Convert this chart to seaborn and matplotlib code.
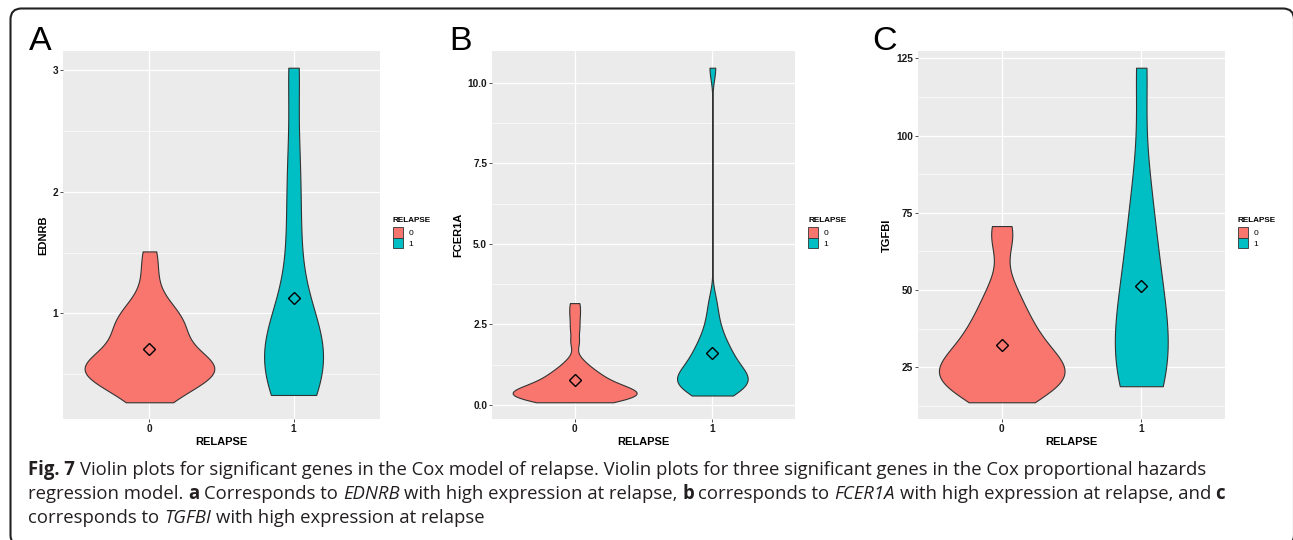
import numpy as np
import pandas as pd
import matplotlib
matplotlib.use("Agg")
import matplotlib.pyplot as plt
from matplotlib.patches import Patch, FancyBboxPatch
from matplotlib.transforms import IdentityTransform
import seaborn as sns

# ---------------- data ----------------
relapse_levels = ["0", "1"]
relapse_colors = ["#F8766D", "#00BFC4"]

ednrb_relapse0 = [0.27, 0.32, 0.38, 0.42, 0.45, 0.48, 0.50, 0.52, 0.53, 0.55, 0.56, 0.57,
                  0.59, 0.61, 0.63, 0.66, 0.74, 0.79, 0.83, 0.87, 0.91, 0.95, 0.99, 1.04,
                  1.12, 1.32, 1.51]
ednrb_relapse1 = [0.33, 0.45, 0.55, 0.64, 0.72, 0.82, 0.97, 1.60, 2.20, 3.02]

fcer1a_relapse0 = [0.08, 0.10, 0.12, 0.16, 0.20, 0.22, 0.24, 0.27, 0.30, 0.33, 0.36, 0.38,
                   0.40, 0.42, 0.44, 0.47, 0.50, 0.54, 0.58, 0.63, 0.68, 0.74, 0.80, 0.87,
                   0.92, 1.00, 1.10, 1.20, 1.40, 1.95, 2.40, 2.80, 3.16]
fcer1a_relapse1 = [0.29, 0.42, 0.50, 0.52, 0.60, 0.67, 0.70, 0.73, 0.79, 0.85, 0.92, 1.00,
                   1.08, 1.17, 1.27, 1.38, 1.50, 1.64, 1.74, 1.90, 2.10, 2.35, 2.70, 3.20,
                   10.47]

tgfbi_relapse0 = [13.6, 15.5, 17.5, 19.0, 20.0, 21.0, 22.0, 23.0, 24.0, 25.0, 26.0, 27.5,
                  29.0, 31.0, 33.0, 35.0, 37.5, 40.0, 43.0, 47.0, 52.0, 66.0, 70.7]
tgfbi_relapse1 = [18.8, 21.0, 25.0, 32.0, 39.0, 47.0, 56.0, 68.0, 84.0, 122.0]

panel_letters = ["A", "B", "C"]
gene_names = ["EDNRB", "FCER1A", "TGFBI"]
major_steps = [1.0, 2.5, 25.0]
tick_decimals = [0, 1, 0]
legend_title = "RELAPSE"
x_title = "RELAPSE"

caption_lines = [
    [("Fig. 7", "bold", "normal"),
     (" Violin plots for significant genes in the Cox model of relapse. Violin plots for three "
      "significant genes in the Cox proportional hazards", "normal", "normal")],
    [("regression model. ", "normal", "normal"), ("a", "bold", "normal"),
     (" Corresponds to ", "normal", "normal"), ("EDNRB", "normal", "italic"),
     (" with high expression at relapse, ", "normal", "normal"), ("b", "bold", "normal"),
     (" corresponds to ", "normal", "normal"), ("FCER1A", "normal", "italic"),
     (" with high expression at relapse, and ", "normal", "normal"), ("c", "bold", "normal")],
    [("corresponds to ", "normal", "normal"), ("TGFBI", "normal", "italic"),
     (" with high expression at relapse", "normal", "normal")],
]

panel_samples = [
    (ednrb_relapse0, ednrb_relapse1),
    (fcer1a_relapse0, fcer1a_relapse1),
    (tgfbi_relapse0, tgfbi_relapse1),
]

# ---------------- layout ----------------
W, H = 1293, 540
plt.rcParams["font.family"] = ["Liberation Sans", "DejaVu Sans"]
fig = plt.figure(figsize=(W / 100, H / 100), dpi=100)
fig.patch.set_facecolor("white")

axes_px = [(63, 51, 380, 419), (492, 51, 795, 419), (918, 51, 1225, 419)]
legend_px = [(392.5, 227), (808, 227), (1237.5, 227)]
letter_px = [(29, 50), (449, 50), (872, 50)]


def nrd0(kde):
    x = np.asarray(kde.dataset).ravel()
    sd = x.std(ddof=1)
    iqr = np.subtract(*np.percentile(x, [75, 25]))
    lo = min(sd, iqr / 1.34) if iqr > 0 else sd
    h = 0.9 * lo * x.size ** (-0.2)
    return h / sd


for i in range(3):
    g0, g1 = panel_samples[i]
    gene = gene_names[i]
    df = pd.DataFrame({
        "RELAPSE": [relapse_levels[0]] * len(g0) + [relapse_levels[1]] * len(g1),
        gene: list(g0) + list(g1),
    })
    x0, y0, x1, y1 = axes_px[i]
    ax = fig.add_axes([x0 / W, 1 - y1 / H, (x1 - x0) / W, (y1 - y0) / H])
    ax.set_facecolor("#EBEBEB")

    sns.violinplot(data=df, x="RELAPSE", y=gene, hue="RELAPSE", order=relapse_levels,
                   hue_order=relapse_levels, palette=relapse_colors, dodge=False,
                   cut=0, density_norm="area", common_norm=True, inner=None,
                   width=0.9, linewidth=0.8, linecolor="#333333", saturation=1,
                   bw_method=nrd0, gridsize=400, legend=False, ax=ax)
    sns.pointplot(data=df, x="RELAPSE", y=gene, order=relapse_levels, estimator="mean",
                  errorbar=None, color="black", markers="D", linestyle="none",
                  markersize=6.0, markeredgewidth=1.0, markerfacecolor="none", ax=ax)

    # ggplot-like continuous expansion (5%) and discrete expansion (0.6)
    vals = df[gene].to_numpy()
    lo, hi = vals.min(), vals.max()
    pad = 0.05 * (hi - lo)
    ax.set_ylim(lo - pad, hi + pad)
    ax.set_xlim(-0.6, 1.6)

    step = major_steps[i]
    start = np.ceil((lo - pad) / step) * step
    majors = np.arange(start, hi + pad + 1e-9, step) + 0.0
    majors = np.where(np.abs(majors) < 1e-12, 0.0, majors)
    minors = np.arange(start - step / 2, hi + pad + 1e-9, step)
    minors = minors[(minors >= lo - pad) & (minors <= hi + pad)]
    ax.set_yticks(minors, minor=True)
    ax.set_yticks(majors)
    ax.set_yticklabels([f"{v:.{tick_decimals[i]}f}" for v in majors], fontweight="bold")
    ax.set_xticks([0, 1])
    ax.set_xticklabels(relapse_levels, fontweight="bold")

    for s in ax.spines.values():
        s.set_visible(False)
    ax.grid(True, which="major", axis="both", color="white", linewidth=0.9)
    ax.grid(True, which="minor", axis="y", color="white", linewidth=0.45)
    ax.set_axisbelow(True)
    ax.tick_params(axis="both", which="major", length=2.3, width=0.6, color="#333333",
                   labelsize=7.3, labelcolor="#1A1A1A", pad=1.2)
    ax.tick_params(axis="both", which="minor", length=0)
    ax.set_ylabel(gene, fontsize=8, fontweight="bold", labelpad=3, color="black")
    ax.set_xlabel(x_title, fontsize=8, fontweight="bold", labelpad=2.5, color="black")

    handles = [Patch(facecolor=c, edgecolor="#333333", linewidth=0.6, label=l)
               for c, l in zip(relapse_colors, relapse_levels)]
    lx, ly = legend_px[i]
    ax.legend(handles=handles, loc="upper left",
              bbox_to_anchor=(lx / W, 1 - ly / H), bbox_transform=fig.transFigure,
              frameon=False, fontsize=6.0,
              handlelength=1.2, handleheight=1.6, labelspacing=0.0,
              handletextpad=0.7, borderpad=0, borderaxespad=0)
    fig.text(lx / W, 1 - 221.5 / H, legend_title, fontsize=5.9, fontweight="bold",
             ha="left", va="baseline", color="black")

    tx, ty = letter_px[i]
    fig.text(tx / W, 1 - ty / H, panel_letters[i], fontsize=24.5, ha="left", va="baseline",
             color="black")

# ---------------- frame ----------------
frame = FancyBboxPatch((10.5, -6), 1283.5, 540 - 8.5 + 6,
                       boxstyle="round,pad=0,rounding_size=11",
                       transform=IdentityTransform(), facecolor="none",
                       edgecolor="#222222", linewidth=1.5)
fig.add_artist(frame)

# ---------------- caption ----------------
cap_family = ["Open Sans", "DejaVu Sans"]
cap_color = "#231F20"
renderer = fig.canvas.get_renderer()


def run_width(s, size, weight, style):
    t = fig.text(0, 0, "x" + s + "x", fontsize=size, family=cap_family,
                 fontweight=weight, fontstyle=style)
    w1 = t.get_window_extent(renderer).width
    t.set_text("xx")
    w2 = t.get_window_extent(renderer).width
    t.remove()
    return w1 - w2


def line_width(runs, size):
    return sum(run_width(s, size, w, st) for s, w, st in runs)


base = 14.0
target = 1187.0
cap_size = base * target / line_width(caption_lines[0], base)

baselines = [475, 499, 523]
for runs, yb in zip(caption_lines, baselines):
    x = 28.0
    for s, w, st in runs:
        core = s.strip(" ")
        lead = len(s) - len(s.lstrip(" "))
        trail = len(s) - len(s.rstrip(" "))
        sp = run_width(" ", cap_size, w, st)
        x += lead * sp
        if core:
            fig.text(x / W, 1 - yb / H, core, fontsize=cap_size, family=cap_family,
                     fontweight=w, fontstyle=st, color=cap_color, ha="left", va="baseline")
            x += run_width(core, cap_size, w, st)
        x += trail * sp

fig.savefig("out.png", dpi=100, facecolor="white")
